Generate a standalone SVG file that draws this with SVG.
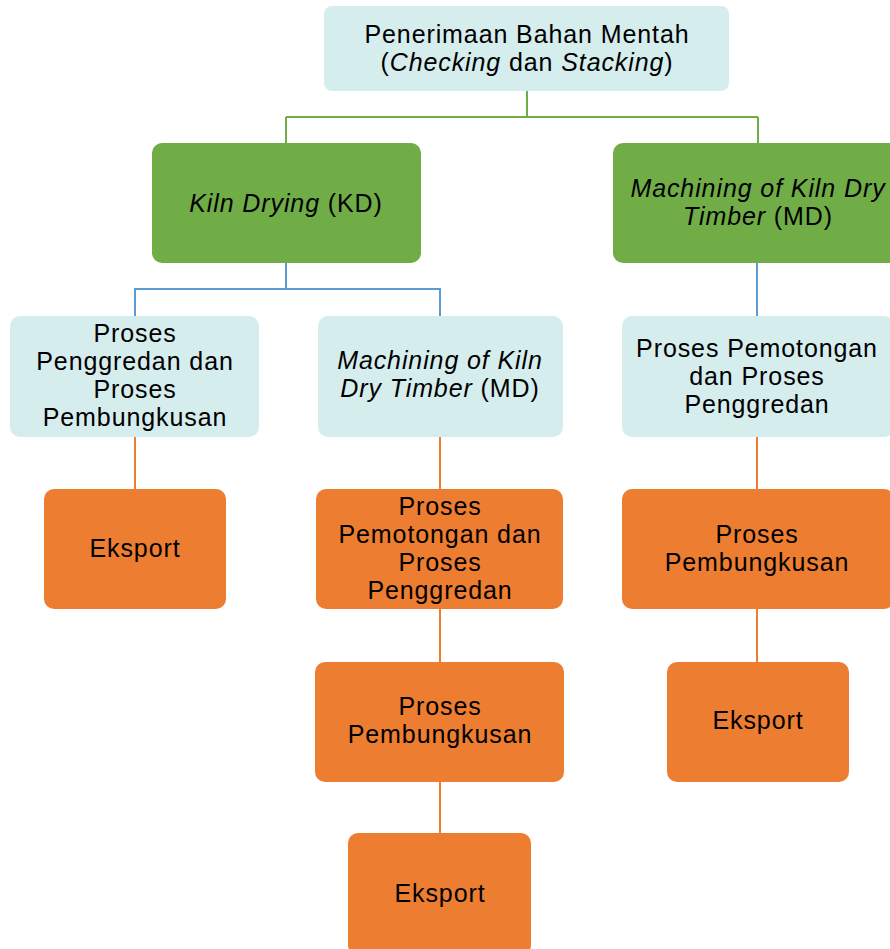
<svg xmlns="http://www.w3.org/2000/svg" width="890" height="949" viewBox="0 0 890 949">
<style>
.lt{fill:#D6EDEE;}
.gr{fill:#70AD47;}
.or{fill:#ED7D31;}
text{font-family:"Liberation Sans",Arial,sans-serif;font-size:25px;letter-spacing:0.9px;fill:#000;text-anchor:middle;}
.i{font-style:italic;}
.cg{stroke:#70AD47;stroke-width:2;fill:none;}
.cb{stroke:#5B9BD5;stroke-width:2;fill:none;}
.co{stroke:#ED7D31;stroke-width:2;fill:none;}
</style>
<rect width="890" height="949" fill="#fff"/>
<g id="connectors">
<path class="cg" d="M527,91 V117 M286,117 H758 M286,117 V143 M758,117 V143"/>
<path class="cb" d="M286,263 V289 H135 V316 M286,289 H440 V316 M757,263 V316"/>
<path class="co" d="M135,437 V489 M440,437 V489 M440,609 V662 M440,782 V833 M757,437 V489 M757,609 V662"/>
</g>
<g id="n_top">
<rect class="lt" x="324" y="6" width="405" height="85" rx="8"/>
<text x="527" y="43">Penerimaan Bahan Mentah</text>
<text x="527" y="71">(<tspan class="i">Checking</tspan> dan <tspan class="i">Stacking</tspan>)</text>
</g>
<g id="n_kd">
<rect class="gr" x="152" y="143" width="269" height="120" rx="10"/>
<text x="286" y="212"><tspan class="i">Kiln Drying</tspan> (KD)</text>
</g>
<g id="n_md">
<rect class="gr" x="613" y="143" width="290" height="120" rx="10"/>
<text x="758" y="197" class="i">Machining of Kiln Dry</text>
<text x="758" y="225"><tspan class="i">Timber</tspan> (MD)</text>
</g>
<g id="n_left1">
<rect class="lt" x="10" y="316" width="249" height="121" rx="10"/>
<text x="135" y="342">Proses</text>
<text x="135" y="370">Penggredan dan</text>
<text x="135" y="398">Proses</text>
<text x="135" y="426">Pembungkusan</text>
</g>
<g id="n_mid1">
<rect class="lt" x="318" y="316" width="245" height="121" rx="10"/>
<text x="440" y="369" class="i">Machining of Kiln</text>
<text x="440" y="397"><tspan class="i">Dry Timber</tspan> (MD)</text>
</g>
<g id="n_right1">
<rect class="lt" x="622" y="316" width="272" height="121" rx="10"/>
<text x="757" y="357">Proses Pemotongan</text>
<text x="757" y="385">dan Proses</text>
<text x="757" y="413">Penggredan</text>
</g>
<g id="n_left2">
<rect class="or" x="44" y="489" width="182" height="120" rx="10"/>
<text x="135" y="557">Eksport</text>
</g>
<g id="n_mid2">
<rect class="or" x="316" y="489" width="247" height="120" rx="10"/>
<text x="440" y="515">Proses</text>
<text x="440" y="543">Pemotongan dan</text>
<text x="440" y="571">Proses</text>
<text x="440" y="599">Penggredan</text>
</g>
<g id="n_right2">
<rect class="or" x="622" y="489" width="272" height="120" rx="10"/>
<text x="757" y="543">Proses</text>
<text x="757" y="571">Pembungkusan</text>
</g>
<g id="n_mid3">
<rect class="or" x="315" y="662" width="249" height="120" rx="10"/>
<text x="440" y="715">Proses</text>
<text x="440" y="743">Pembungkusan</text>
</g>
<g id="n_right3">
<rect class="or" x="667" y="662" width="182" height="120" rx="10"/>
<text x="758" y="729">Eksport</text>
</g>
<g id="n_mid4">
<rect class="or" x="348" y="833" width="183" height="122" rx="10"/>
<text x="440" y="902">Eksport</text>
</g>
</svg>
